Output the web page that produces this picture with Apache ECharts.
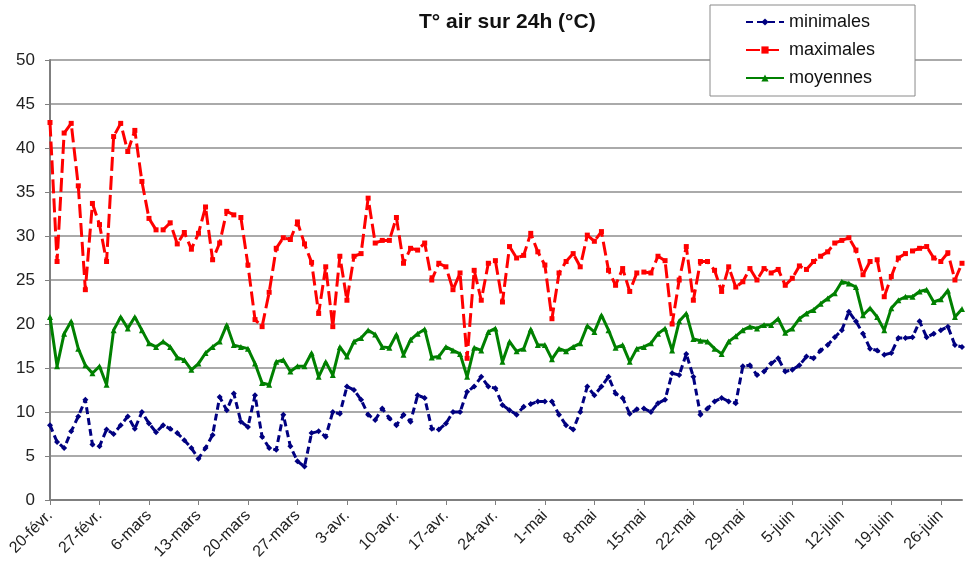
<!DOCTYPE html>
<html>
<head>
<meta charset="utf-8">
<script src="https://cdn.jsdelivr.net/npm/echarts@6/dist/echarts.min.js"></script>
<style>
  html, body { margin: 0; padding: 0; background: #fff; }
  #chart { width: 965px; height: 567px; }
</style>
</head>
<body>
<div id="chart"></div>
<script>
// mois de la période (20 févr. -> 29 juin)
const monthNames = ['févr.', 'mars', 'avr.', 'mai', 'juin'];
const monthDays = [28, 31, 30, 31, 30];
const startDay = 20;
const nbDays = 130;

// températures relevées (°C)
const minimales = [
  8.5, 6.6, 5.9, 7.8, 9.5, 11.4, 6.3, 6.1, 8.0, 7.5,
  8.5, 9.5, 8.1, 10.0, 8.7, 7.7, 8.5, 8.1, 7.6, 6.8,
  5.9, 4.7, 5.9, 7.4, 11.7, 10.2, 12.1, 8.9, 8.3, 11.9,
  7.2, 5.9, 5.7, 9.7, 6.1, 4.4, 3.8, 7.6, 7.8, 7.2,
  10.0, 9.8, 12.9, 12.5, 11.4, 9.7, 9.1, 10.4, 9.3, 8.5,
  9.7, 8.9, 11.9, 11.6, 8.1, 8.0, 8.7, 10.0, 10.0, 12.3,
  12.9, 14.0, 12.9, 12.7, 10.8, 10.2, 9.7, 10.6, 10.9, 11.2,
  11.2, 11.2, 9.7, 8.5, 8.0, 10.0, 12.9, 11.9, 12.9, 14.0,
  12.1, 11.6, 9.8, 10.3, 10.4, 10.0, 11.0, 11.4, 14.4, 14.2,
  16.6, 14.0, 9.7, 10.4, 11.2, 11.6, 11.2, 11.0, 15.2, 15.3,
  14.2, 14.6, 15.5, 16.1, 14.6, 14.8, 15.3, 16.3, 16.1, 17.0,
  17.6, 18.5, 19.3, 21.4, 20.3, 18.9, 17.2, 17.0, 16.5, 16.7,
  18.4, 18.4, 18.5, 20.3, 18.5, 18.9, 19.3, 19.7, 17.6, 17.4
];
const maximales = [
  42.9, 27.1, 41.7, 42.8, 35.7, 23.9, 33.7, 31.3, 27.1, 41.3,
  42.8, 39.6, 42.0, 36.2, 32.0, 30.7, 30.7, 31.5, 29.1, 30.4,
  28.5, 30.3, 33.3, 27.3, 29.2, 32.8, 32.4, 32.1, 26.7, 20.5,
  19.7, 23.6, 28.6, 29.8, 29.6, 31.6, 29.1, 27.0, 21.2, 26.5,
  19.7, 27.7, 22.7, 27.7, 28.0, 34.3, 29.2, 29.5, 29.5, 32.1,
  26.9, 28.6, 28.4, 29.2, 25.0, 26.9, 26.5, 23.9, 25.8, 16.1,
  26.1, 22.7, 26.9, 27.2, 22.5, 28.8, 27.5, 27.8, 30.3, 28.2,
  26.7, 20.6, 25.8, 27.1, 28.0, 26.5, 30.1, 29.4, 30.5, 26.1,
  24.4, 26.3, 23.7, 25.8, 25.9, 25.8, 27.7, 27.2, 20.0, 25.0,
  28.8, 22.7, 27.1, 27.1, 26.1, 23.7, 26.5, 24.2, 24.8, 26.3,
  25.0, 26.3, 25.8, 26.2, 24.4, 25.2, 26.6, 26.2, 27.1, 27.7,
  28.2, 29.2, 29.5, 29.8, 28.4, 25.6, 27.1, 27.3, 23.1, 25.4,
  27.5, 28.0, 28.3, 28.6, 28.8, 27.5, 27.1, 28.1, 25.0, 26.9
];
const moyennes = [
  20.8, 15.2, 18.9, 20.3, 17.2, 15.3, 14.4, 15.2, 13.1, 19.3,
  20.8, 19.5, 20.8, 19.3, 17.8, 17.4, 18.0, 17.4, 16.2, 15.9,
  14.8, 15.5, 16.7, 17.4, 18.0, 19.9, 17.6, 17.4, 17.2, 15.5,
  13.3, 13.1, 15.7, 15.9, 14.6, 15.2, 15.2, 16.7, 14.0, 15.7,
  14.2, 17.4, 16.3, 18.0, 18.4, 19.3, 18.8, 17.4, 17.3, 18.8,
  16.5, 18.2, 18.9, 19.4, 16.2, 16.3, 17.4, 17.0, 16.6, 14.0,
  17.3, 17.0, 19.1, 19.5, 15.7, 18.0, 16.9, 17.2, 19.4, 17.6,
  17.6, 16.0, 17.2, 16.9, 17.4, 17.8, 19.8, 19.1, 21.0, 19.3,
  17.3, 17.6, 15.7, 17.2, 17.4, 17.8, 18.9, 19.5, 17.0, 20.3,
  21.2, 18.3, 18.1, 18.0, 17.2, 16.6, 18.0, 18.6, 19.3, 19.7,
  19.5, 19.9, 19.9, 20.6, 19.0, 19.5, 20.6, 21.2, 21.6, 22.3,
  22.9, 23.5, 24.8, 24.6, 24.2, 21.0, 21.8, 20.8, 19.3, 21.8,
  22.7, 23.1, 23.1, 23.7, 23.9, 22.5, 22.8, 23.8, 20.8, 21.7
];

// libellés des jours : "20-févr.", "6-mars", ...
const jours = [];
let m = 0, d = startDay;
for (let i = 0; i < nbDays; i++) {
  jours.push(d + '-' + monthNames[m]);
  d++;
  if (d > monthDays[m]) { d = 1; m++; }
}

const font = 'Liberation Sans, Arial, sans-serif';
const chart = echarts.init(document.getElementById('chart'));

const option = {
  animation: false,
  title: {
    text: 'T° air sur 24h (°C)',
    left: 414,
    top: 7,
    textStyle: { fontFamily: font, fontSize: 21, fontWeight: 'bold', color: '#111' }
  },
  legend: {
    orient: 'vertical',
    left: 710,
    top: 5,
    padding: [8, 40, 9, 35],
    itemGap: 10,
    itemWidth: 38,
    itemHeight: 9,
    backgroundColor: '#fff',
    borderColor: '#8a8a8a',
    borderWidth: 1,
    textStyle: { fontFamily: font, fontSize: 18, lineHeight: 18, color: '#111' },
    data: ['minimales', 'maximales', 'moyennes']
  },
  grid: { left: 50, right: 3, top: 60, bottom: 67 },
  xAxis: {
    type: 'category',
    boundaryGap: false,
    data: jours,
    axisLine: { lineStyle: { color: '#7f7f7f', width: 2 } },
    axisTick: { interval: 6, length: 5, lineStyle: { color: '#7f7f7f' } },
    axisLabel: {
      interval: 6,
      rotate: 45,
      margin: 13,
      fontFamily: font,
      fontSize: 16,
      color: '#222'
    },
    splitLine: { show: false }
  },
  yAxis: {
    type: 'value',
    min: 0,
    max: 50,
    interval: 5,
    axisLine: { show: true, lineStyle: { color: '#7f7f7f', width: 2 } },
    axisTick: { show: true, length: 5, lineStyle: { color: '#7f7f7f' } },
    axisLabel: { margin: 15, fontFamily: font, fontSize: 17, color: '#222' },
    splitLine: { lineStyle: { color: '#aaaaaa', width: 2 } }
  },
  series: [
    {
      name: 'minimales',
      type: 'line',
      data: minimales,
      color: '#000080',
      lineStyle: { width: 3, type: [7, 4] },
      symbol: 'diamond',
      symbolSize: 6,
      showAllSymbol: true
    },
    {
      name: 'maximales',
      type: 'line',
      data: maximales,
      color: '#ff0000',
      lineStyle: { width: 3, type: [14, 5] },
      symbol: 'rect',
      symbolSize: 5,
      showAllSymbol: true
    },
    {
      name: 'moyennes',
      type: 'line',
      data: moyennes,
      color: '#008000',
      lineStyle: { width: 3 },
      symbol: 'triangle',
      symbolSize: 6,
      showAllSymbol: true
    }
  ]
};

chart.setOption(option);
</script>
</body>
</html>
